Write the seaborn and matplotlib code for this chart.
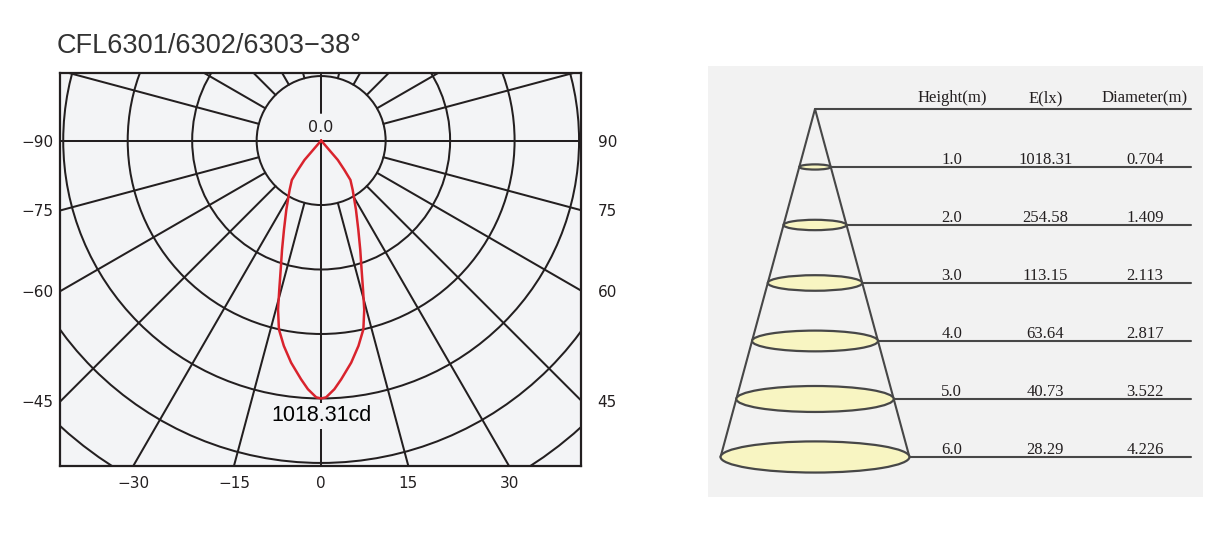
import numpy as np
import pandas as pd
import seaborn as sns
import matplotlib.pyplot as plt
from matplotlib.patches import Circle, Ellipse

# intensity curve (one half, the beam is symmetric)
angles_deg = [0, 1.1, 3.05, 4.8, 7.7, 10.3, 12.6, 14.3, 15.7, 17.4, 19.7,
              22.6, 26.7, 32.6, 36.6, 38.3, 40.6, 90]
candela = [1018.31, 1014, 983, 946, 885, 824, 764, 689, 611, 534, 458,
           382, 306, 231, 194, 148, 101, 0]
max_cd = 1018.31

side_ticks = [90, 75, 60, 45]
bottom_ticks = [-30, -15, 0, 15, 30]
rings = [1, 2, 3, 4, 5, 6]

# illuminance table
heights = [1.0, 2.0, 3.0, 4.0, 5.0, 6.0]
lux = [1018.31, 254.58, 113.15, 63.64, 40.73, 28.29]
diameters = [0.704, 1.409, 2.113, 2.817, 3.522, 4.226]

title = "CFL6301/6302/6303\u221238\u00b0"

sns.set_theme(style="white")
ink = "#231f20"
red = "#d9232d"
face = "#f3f4f6"

fig = plt.figure(figsize=(12.3, 5.36), dpi=100)
fig.patch.set_facecolor("white")

# ---------- polar candela diagram ----------
ax = fig.add_axes([60 / 1230, 70 / 536, 521 / 1230, 393 / 536])
ax.set_facecolor(face)
x_lo, x_hi, y_lo, y_hi = -4.05, 4.03, -5.047, 1.047
ax.set_xlim(x_lo, x_hi)
ax.set_ylim(y_lo, y_hi)
ax.set_aspect("equal")

for r in rings:
    ax.add_patch(Circle((0, 0), r, fill=False, ec=ink, lw=1.45, zorder=2))

for a in range(0, 360, 15):
    t = np.radians(a)
    ax.plot([np.sin(t), 10 * np.sin(t)], [-np.cos(t), -10 * np.cos(t)],
            color=ink, lw=1.45, zorder=2)
# spokes inside the first ring
ax.plot([-1, 1], [0, 0], color=ink, lw=1.45, zorder=2)
ax.plot([0, 0], [0, -1], color=ink, lw=1.45, zorder=2)
ax.plot([0, 0], [0.42, 1], color=ink, lw=1.45, zorder=2)

unit = max_cd / 4
th = np.radians(np.array(angles_deg))
r = np.array(candela) / unit
half_x = r * np.sin(th)
half_y = -r * np.cos(th)
curve = pd.DataFrame({
    "x": np.concatenate([-half_x[::-1], half_x[1:]]),
    "y": np.concatenate([half_y[::-1], half_y[1:]]),
})
sns.lineplot(data=curve, x="x", y="y", sort=False, estimator=None,
             color=red, lw=1.8, ax=ax, zorder=4)
ax.set_xlabel("")
ax.set_ylabel("")

ax.text(0, 0.2, "0.0", ha="center", va="center", fontsize=11.5,
        family="DejaVu Sans", color=ink, zorder=5)
ax.text(0, -4.27, f"{max_cd:.2f}cd", ha="center", va="center", fontsize=15.5,
        family="Liberation Sans", color="black", zorder=5,
        bbox=dict(facecolor=face, edgecolor="none", pad=1.5))

side_pos = [-((x_hi - x_lo) / 2) / np.tan(np.radians(a)) for a in side_ticks]
ax.set_yticks(side_pos, [f"\u2212{a}" for a in side_ticks])
ax.set_xticks([-y_lo * np.tan(np.radians(a)) for a in bottom_ticks],
              [str(a).replace("-", "\u2212") for a in bottom_ticks])
ax.tick_params(length=0, labelsize=11, colors=ink, pad=5)
ax.tick_params(axis="x", pad=7)
for lab in ax.get_xticklabels() + ax.get_yticklabels():
    lab.set_family("DejaVu Sans")

sec = ax.secondary_yaxis("right")
sec.set_yticks(side_pos, [str(a) for a in side_ticks])
sec.tick_params(length=0, labelsize=11, colors=ink, pad=12)
sec.spines["right"].set_visible(False)
for lab in sec.get_yticklabels():
    lab.set_family("DejaVu Sans")

for s in ax.spines.values():
    s.set_color(ink)
    s.set_linewidth(1.6)
    s.set_zorder(6)

fig.text(57 / 1230, 1 - 46 / 536, title, ha="left", va="center",
         fontsize=19.5, family="Liberation Sans", color="#333333")

# ---------- cone / illuminance table ----------
ax2 = fig.add_axes([708 / 1230, 39 / 536, 495 / 1230, 431 / 536])
ax2.set_facecolor("#f2f2f2")
ax2.set_xlim(-2.394, 8.68)
ax2.set_ylim(6.69, -0.741)
for s in ax2.spines.values():
    s.set_visible(False)
ax2.set_xticks([])
ax2.set_yticks([])

line_c = "#474747"
line_end = 8.41
d_max = diameters[-1]
h_max = heights[-1]
ax2.plot([-d_max / 2, 0, d_max / 2], [h_max, 0, h_max], color=line_c, lw=1.5, zorder=2)
ax2.plot([0, line_end], [0, 0], color=line_c, lw=1.5, zorder=2)

col_x = [3.06, 5.15, 7.38]
for x, head in zip(col_x, ["Height(m)", "E(lx)", "Diameter(m)"]):
    ax2.text(x, -0.12, head, ha="center", va="baseline", fontsize=12,
             family="Liberation Serif", color=ink)

for h, e, d in zip(heights, lux, diameters):
    ax2.add_patch(Ellipse((0, h), d, d * 0.127, fc="#f8f5c2", ec=line_c,
                          lw=1.6, zorder=3))
    ax2.plot([d / 2, line_end], [h, h], color=line_c, lw=1.5, zorder=2)
    for x, s in zip(col_x, [f"{h:.1f}", f"{e:.2f}", f"{d:.3f}"]):
        ax2.text(x, h - 0.05, s, ha="center", va="baseline", fontsize=12,
                 family="Liberation Serif", color=ink)

fig.savefig("out.png", dpi=100)
